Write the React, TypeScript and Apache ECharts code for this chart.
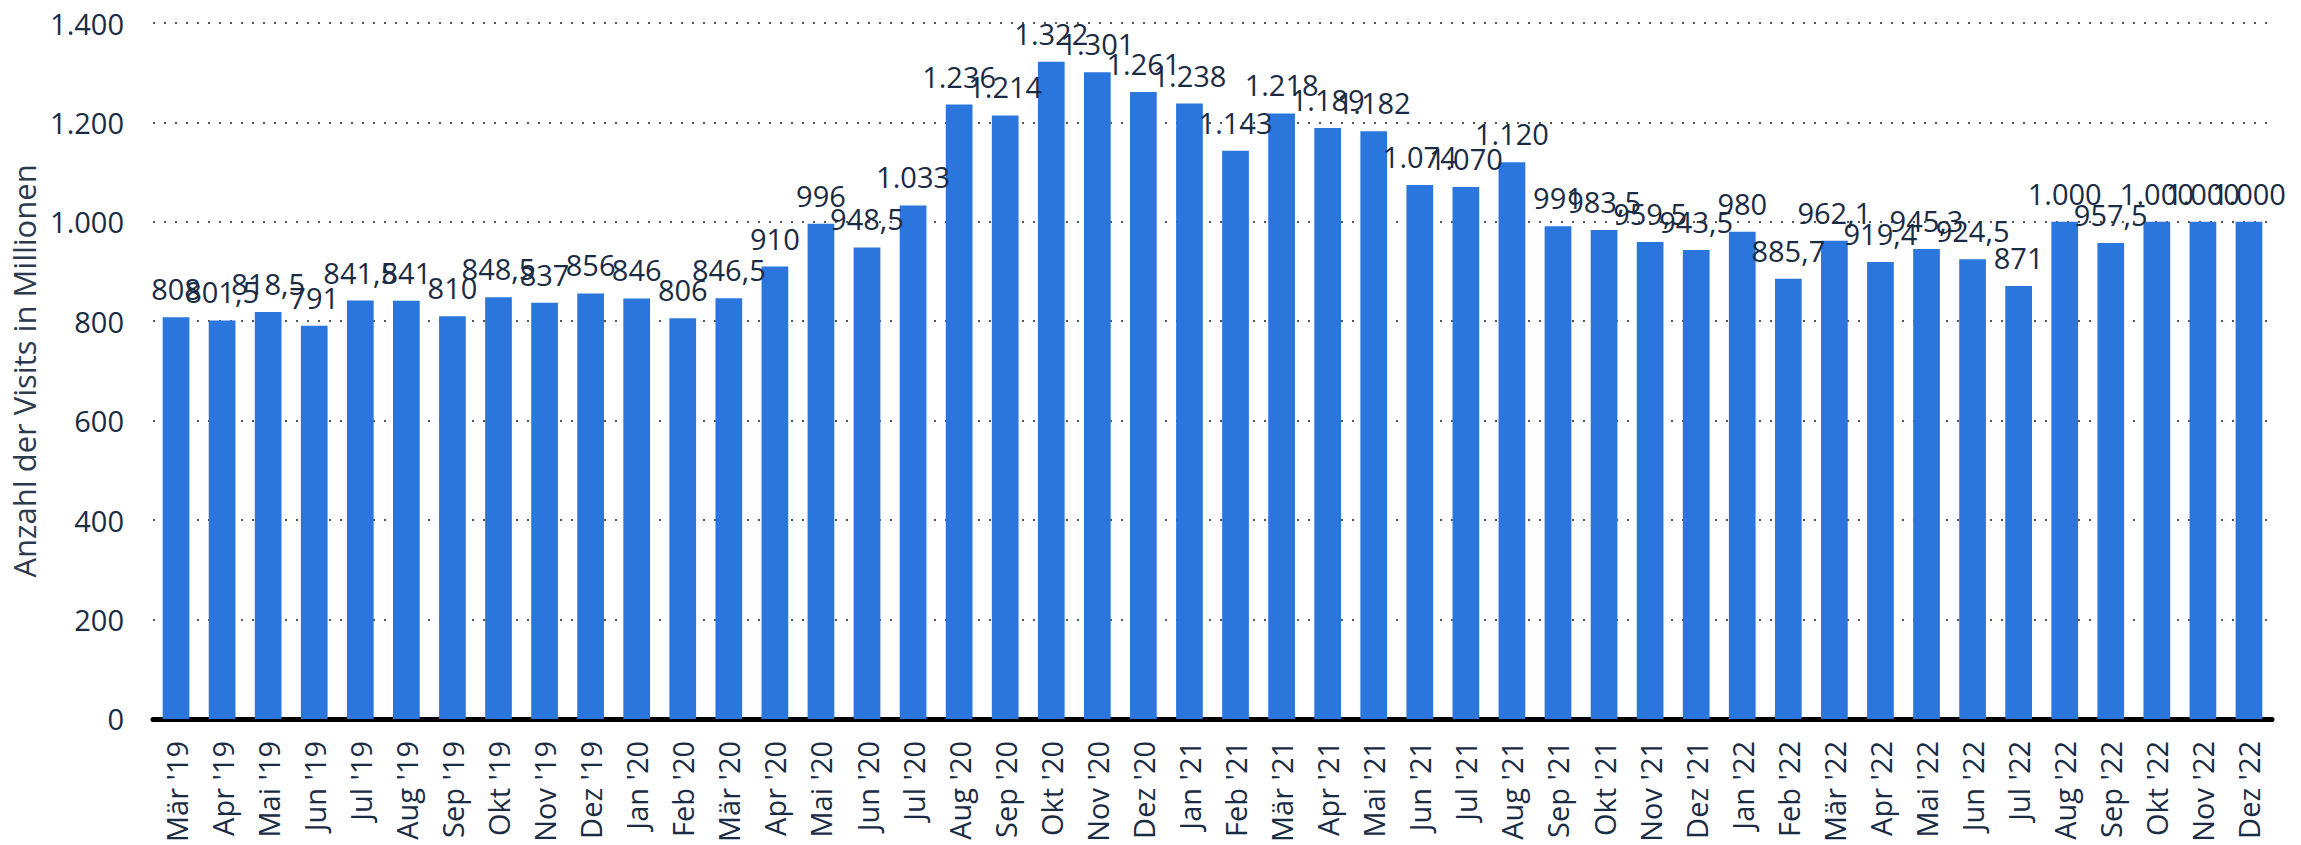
import React, { useEffect, useRef } from "react";
import * as echarts from "echarts";

const categories = [
  "Mär '19", "Apr '19", "Mai '19", "Jun '19", "Jul '19", "Aug '19", "Sep '19", "Okt '19", "Nov '19", "Dez '19",
  "Jan '20", "Feb '20", "Mär '20", "Apr '20", "Mai '20", "Jun '20", "Jul '20", "Aug '20", "Sep '20", "Okt '20", "Nov '20", "Dez '20",
  "Jan '21", "Feb '21", "Mär '21", "Apr '21", "Mai '21", "Jun '21", "Jul '21", "Aug '21", "Sep '21", "Okt '21", "Nov '21", "Dez '21",
  "Jan '22", "Feb '22", "Mär '22", "Apr '22", "Mai '22", "Jun '22", "Jul '22", "Aug '22", "Sep '22", "Okt '22", "Nov '22", "Dez '22",
];

const visits = [
  808, 801.5, 818.5, 791, 841.5, 841, 810, 848.5, 837, 856,
  846, 806, 846.5, 910, 996, 948.5, 1033, 1236, 1214, 1322, 1301, 1261,
  1238, 1143, 1218, 1189, 1182, 1074, 1070, 1120, 991, 983.5, 959.5, 943.5,
  980, 885.7, 962.1, 919.4, 945.3, 924.5, 871, 1000, 957.5, 1000, 1000, 1000,
];

const yTicks = [0, 200, 400, 600, 800, 1000, 1200, 1400];

const fmtDe = (v: number): string => {
  const neg = v < 0;
  const abs = Math.abs(v);
  const intPart = Math.floor(abs);
  const dec = Math.round((abs - intPart) * 10);
  const intStr = String(intPart).replace(/\B(?=(\d{3})+(?!\d))/g, ".");
  return (neg ? "-" : "") + intStr + (dec ? "," + dec : "");
};

export default function App() {
  const ref = useRef<HTMLDivElement>(null);
  useEffect(() => {
    if (!ref.current) return;
    const chart = echarts.init(ref.current, undefined, { renderer: "svg" });
    const textColor = "#1a2b44";
    chart.setOption({
      animation: false,
      backgroundColor: "#ffffff",
      grid: { left: 152, right: 29, top: 23, bottom: 123, containLabel: false },
      xAxis: {
        type: "category",
        data: categories,
        axisLine: { show: true, lineStyle: { color: "#000000", width: 5 } },
        axisTick: { show: false },
        axisLabel: {
          interval: 0,
          rotate: 90,
          color: textColor,
          fontFamily: "Open Sans",
          fontSize: 29,
          margin: 22,
        },
      },
      yAxis: {
        type: "value",
        min: yTicks[0],
        max: yTicks[yTicks.length - 1],
        interval: 200,
        name: "Anzahl der Visits in Millionen",
        nameLocation: "middle",
        nameRotate: 90,
        nameGap: 114,
        nameTextStyle: { color: "#2b3a4c", fontFamily: "Open Sans", fontSize: 31 },
        axisLine: { show: false },
        axisTick: { show: false },
        axisLabel: {
          color: textColor,
          fontFamily: "Open Sans",
          fontSize: 29,
          margin: 29,
          formatter: (v: number) => fmtDe(v),
        },
        splitLine: { show: true, lineStyle: { color: "#555", type: [2, 9], width: 2 } },
      },
      series: [
        {
          type: "bar",
          data: visits,
          barWidth: "58%",
          itemStyle: { color: "#2a76dd" },
          label: {
            show: true,
            position: "top",
            distance: 14,
            color: textColor,
            fontFamily: "Open Sans",
            fontSize: 29,
            formatter: (p: any) => fmtDe(p.value),
          },
        },
      ],
    });
    return () => chart.dispose();
  }, []);
  return (
    <div
      ref={ref}
      style={{ position: "absolute", left: 0, top: 0, width: 2301, height: 845 }}
    />
  );
}
